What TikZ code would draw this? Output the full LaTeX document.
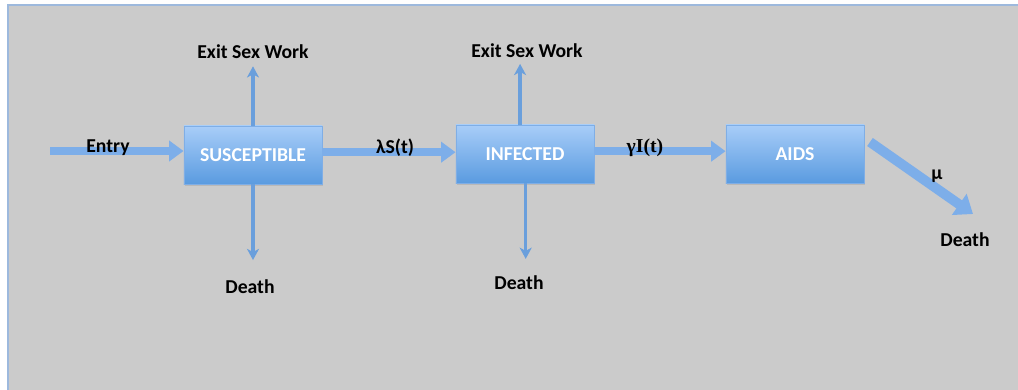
\documentclass[tikz,border=0pt]{standalone}
\usepackage{fontspec}
\setmainfont{Carlito}
\newfontfamily\serifbf{Liberation Serif}
\usetikzlibrary{arrows.meta,shadows}
\definecolor{bggrey}{HTML}{CBCBCB}
\definecolor{frameblue}{HTML}{9DB9DD}
\definecolor{boxtop}{HTML}{A8CDF8}
\definecolor{boxbot}{HTML}{5A9BE0}
\definecolor{boxline}{HTML}{7FAEE6}
\definecolor{arrowblue}{HTML}{7DAEE9}
\definecolor{thinblue}{HTML}{6A9FDC}

\begin{document}
\begin{tikzpicture}[x=0.025cm, y=-0.025cm]
\tikzstyle{comp}=[draw=boxline,line width=0.6pt,top color=boxtop,bottom color=boxbot,minimum width=3.45cm,minimum height=1.45cm,text=white,font=\fontsize{14}{16}\selectfont\bfseries,drop shadow={opacity=0.25,shadow xshift=0.6pt,shadow yshift=-1.2pt}]
\tikzstyle{lbl}=[draw=none,font=\fontsize{14}{16}\selectfont\bfseries,inner sep=1pt]
\tikzstyle{fat}=[draw=arrowblue,line width=5.5pt,-{Triangle[length=0.36cm,width=0.5cm]}]
\tikzstyle{thin}=[draw=thinblue,line width=2.3pt,-{Stealth[length=0.28cm,width=0.3cm,inset=0.08cm]}]
\useasboundingbox (0,0) rectangle (1018,389);
\clip (0,0) rectangle (1018,389);
\fill[white] (0,0) rectangle (1018,389);
\draw[frameblue,line width=1.5pt,fill=bggrey] (8,5) rectangle (1030,400);

\node[comp] (sus) at (253,155) {SUSCEPTIBLE};
\node[comp] (inf) at (525,154) {INFECTED};
\node[comp] (aids) at (795,154) {AIDS};

\node[lbl] (exit1) at (253,52) {Exit Sex Work};
\node[lbl] (exit2) at (527,51) {Exit Sex Work};
\node[lbl] (death1) at (250,287) {Death};
\node[lbl] (death2) at (519,283) {Death};
\node[lbl] (death3) at (965,240) {Death};

\coordinate (entry) at (50,151);
\coordinate (mustart) at (870,142);
\coordinate (muend) at (973,214);

\draw[fat] (entry) -- (entry -| sus.west);
\draw[fat] ([yshift=2pt]sus.east) -- ([yshift=2pt]sus.east -| inf.west);
\draw[fat] ([yshift=2pt]inf.east) -- ([yshift=2pt]inf.east -| aids.west);
\draw[fat,line width=7pt,-{Triangle[length=0.42cm,width=0.62cm]}] (mustart) -- (muend);

\draw[thin] (sus.north) -- ([yshift=-4pt]sus.north |- exit1.south);
\draw[thin] (sus.south) -- ([yshift=13pt]sus.south |- death1.north);
\draw[thin] ([xshift=-3.5pt]inf.north) -- ([xshift=-3.5pt,yshift=-3pt]inf.north |- exit2.south);
\draw[thin] ([xshift=0.5pt]inf.south) -- ([xshift=0.5pt,yshift=11pt]inf.south |- death2.north);

\node[lbl] (entrylbl) at (108,148) {Entry};
\node[lbl] (laml) at (395,148) {λS(t)};
\node[lbl,font=\fontsize{14}{16}\serifbf\bfseries] (gaml) at (645,148) {γI(t)};
\node[lbl] (mul) at (937,176) {μ};
\end{tikzpicture}
\end{document}
